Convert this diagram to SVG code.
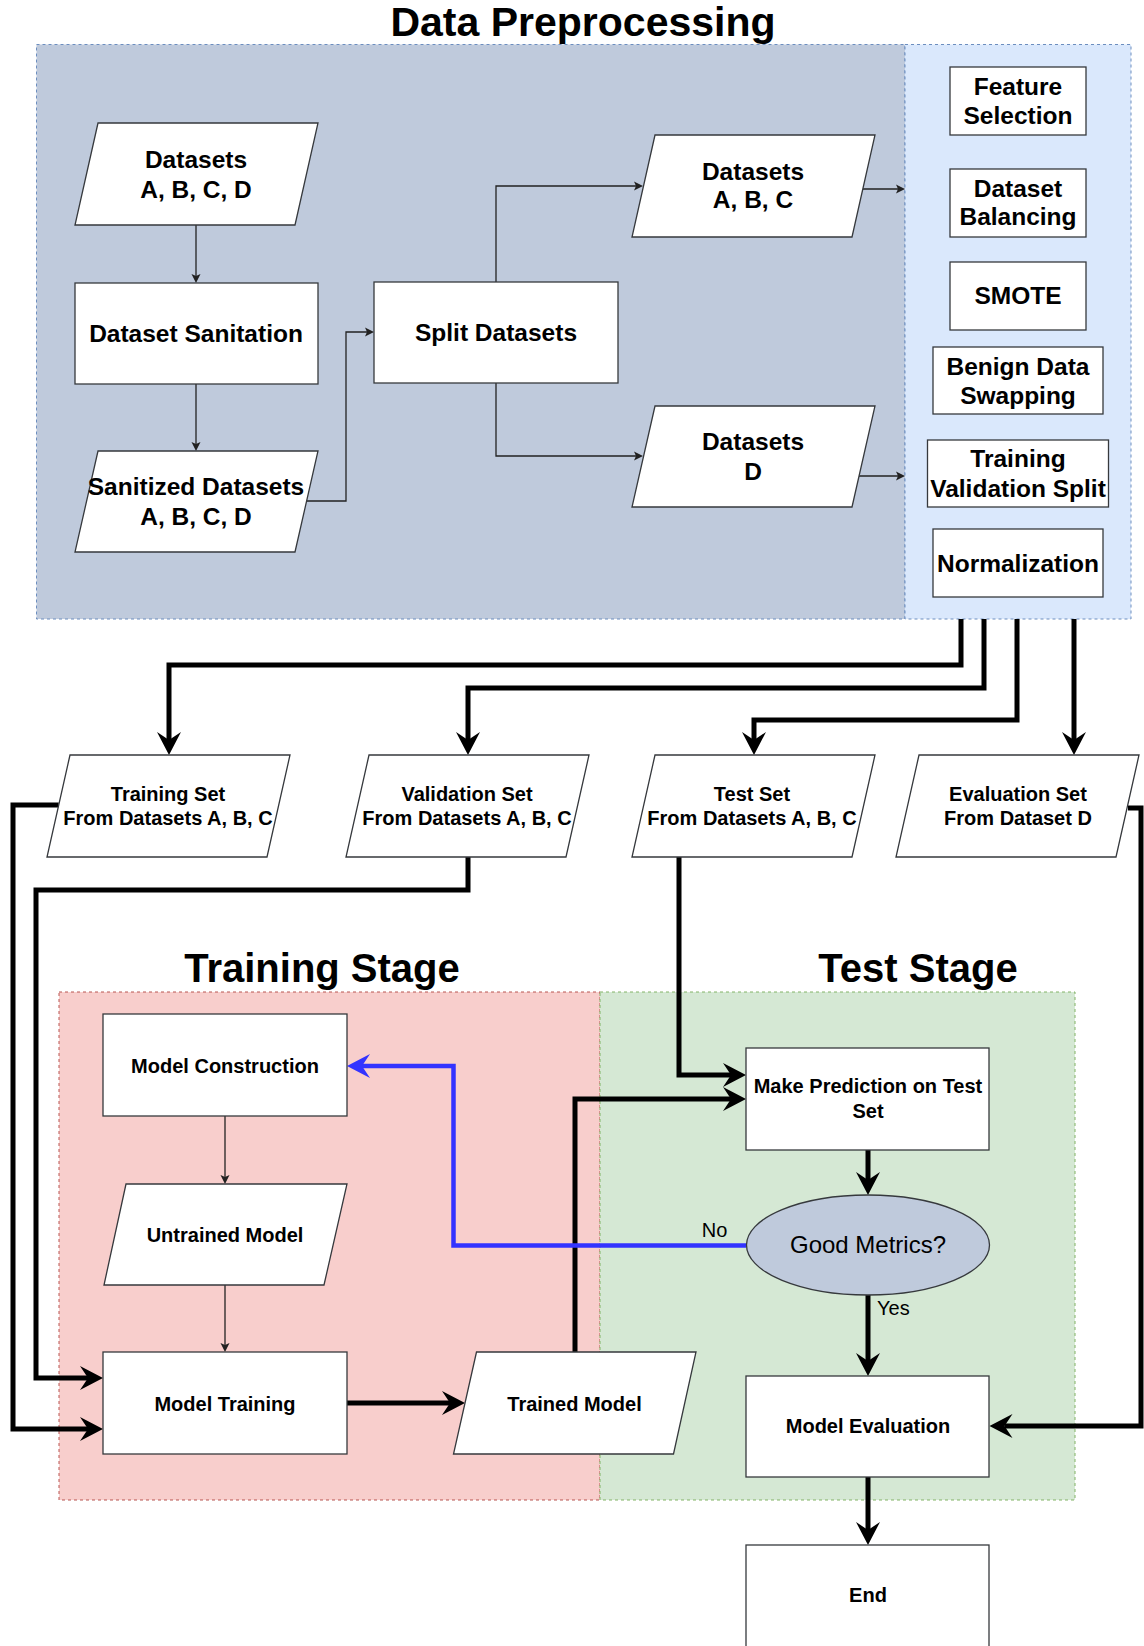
<svg xmlns="http://www.w3.org/2000/svg" width="1144" height="1646" viewBox="0 0 1144 1646">
<style>
.box{fill:#fff;stroke:#36393d;stroke-width:1.3}
.t{font-family:"Liberation Sans",Arial,sans-serif;font-weight:bold;fill:#000;text-anchor:middle}
.t1{font-size:24.5px}
.t2{font-size:20px}
.title{font-size:40px}
.r{font-family:"Liberation Sans",Arial,sans-serif;fill:#000}
.thin{fill:none;stroke:#222;stroke-width:1.3}
.thick{fill:none;stroke:#000;stroke-width:5}
.blue{fill:none;stroke:#3333ff;stroke-width:4.5}
</style>
<defs>
<marker id="ah" viewBox="-9 -13 25 26" refX="0" refY="0" markerWidth="25" markerHeight="26" markerUnits="userSpaceOnUse" orient="auto">
<path d="M15,0 L-8,-12 L0,0 L-8,12 Z" fill="#000"/>
</marker>
<marker id="ahb" viewBox="-9 -13 25 26" refX="0" refY="0" markerWidth="25" markerHeight="26" markerUnits="userSpaceOnUse" orient="auto">
<path d="M15,0 L-8,-12 L0,0 L-8,12 Z" fill="#3333ff"/>
</marker>
<marker id="as" viewBox="-3 -6 11 12" refX="0" refY="0" markerWidth="11" markerHeight="12" markerUnits="userSpaceOnUse" orient="auto">
<path d="M7,0 L-2,-4.5 L0,0 L-2,4.5 Z" fill="#222"/>
</marker>
</defs>

<g id="containers">
<rect x="36.5" y="44.5" width="868.5" height="574.5" fill="#bfcadc" stroke="#6c8ebf" stroke-dasharray="3 3"/>
<rect x="905" y="44.5" width="226" height="574.5" fill="#dae8fc" stroke="#6c8ebf" stroke-dasharray="3 3"/>
<rect x="59" y="992" width="541" height="508" fill="#f8cecc" stroke="#b85450" stroke-dasharray="3 3"/>
<rect x="600" y="992" width="475" height="508" fill="#d5e8d4" stroke="#82b366" stroke-dasharray="3 3"/>
<text class="t title" x="583" y="36" style="font-size:41px">Data Preprocessing</text>
<text class="t title" x="322" y="982">Training Stage</text>
<text class="t title" x="918" y="982">Test Stage</text>
</g>

<g id="connectors">
<path class="thin" d="M196,225 V276" marker-end="url(#as)"/>
<path class="thin" d="M196,384 V444" marker-end="url(#as)"/>
<path class="thin" d="M306,501 H346 V332 H367" marker-end="url(#as)"/>
<path class="thin" d="M496,282 V186 H636" marker-end="url(#as)"/>
<path class="thin" d="M496,383 V456 H636" marker-end="url(#as)"/>
<path class="thin" d="M863,189 H898" marker-end="url(#as)"/>
<path class="thin" d="M859,476 H898" marker-end="url(#as)"/>
<path class="thin" d="M225,1116 V1177" marker-end="url(#as)"/>
<path class="thin" d="M225,1285 V1345" marker-end="url(#as)"/>

<path class="thick" d="M961,619 V665 H169 V740" marker-end="url(#ah)"/>
<path class="thick" d="M984,619 V688 H468 V740" marker-end="url(#ah)"/>
<path class="thick" d="M1017,619 V720 H754 V740" marker-end="url(#ah)"/>
<path class="thick" d="M1074,619 V740" marker-end="url(#ah)"/>
<path class="thick" d="M58.7,805 H13 V1429 H88" marker-end="url(#ah)"/>
<path class="thick" d="M468,857 V890 H36 V1378 H88" marker-end="url(#ah)"/>
<path class="thick" d="M679,857 V1075 H731" marker-end="url(#ah)"/>
<path class="thick" d="M575,1352 V1099 H731" marker-end="url(#ah)"/>
<path class="thick" d="M1128,808 H1141 V1426 H1004.5" marker-end="url(#ah)"/>
<path class="thick" d="M347,1403 H450" marker-end="url(#ah)"/>
<path class="thick" d="M868,1150 V1180" marker-end="url(#ah)"/>
<path class="thick" d="M868,1295 V1361" marker-end="url(#ah)"/>
<path class="thick" d="M868,1477 V1530" marker-end="url(#ah)"/>
<path class="blue" d="M746,1245.5 H453.5 V1066 H362" marker-end="url(#ahb)"/>
<text class="r" x="714.5" y="1237" font-size="20" text-anchor="middle">No</text>
<text class="r" x="877" y="1315" font-size="20">Yes</text>
</g>

<g id="n-datasets-abcd">
<polygon class="box" points="98,123 318,123 295,225 75,225"/>
<text class="t t1" x="196" y="168">Datasets</text>
<text class="t t1" x="196" y="198">A, B, C, D</text>
</g>
<g id="n-sanitation">
<rect class="box" x="75" y="283" width="243" height="101"/>
<text class="t t1" x="196" y="342">Dataset Sanitation</text>
</g>
<g id="n-sanitized">
<polygon class="box" points="98,451 318,451 295,552 75,552"/>
<text class="t t1" x="196" y="495">Sanitized Datasets</text>
<text class="t t1" x="196" y="525">A, B, C, D</text>
</g>
<g id="n-split">
<rect class="box" x="374" y="282" width="244" height="101"/>
<text class="t t1" x="496" y="341">Split Datasets</text>
</g>
<g id="n-datasets-abc">
<polygon class="box" points="655,135 875,135 852,237 632,237"/>
<text class="t t1" x="753" y="180">Datasets</text>
<text class="t t1" x="753" y="208">A, B, C</text>
</g>
<g id="n-datasets-d">
<polygon class="box" points="655,406 875,406 852,507 632,507"/>
<text class="t t1" x="753" y="450">Datasets</text>
<text class="t t1" x="753" y="480">D</text>
</g>

<g id="n-feature">
<rect class="box" x="950" y="67" width="136" height="68"/>
<text class="t t1" x="1018" y="95">Feature</text>
<text class="t t1" x="1018" y="124">Selection</text>
</g>
<g id="n-balancing">
<rect class="box" x="950" y="169" width="136" height="68"/>
<text class="t t1" x="1018" y="197">Dataset</text>
<text class="t t1" x="1018" y="225">Balancing</text>
</g>
<g id="n-smote">
<rect class="box" x="950" y="262" width="136" height="68"/>
<text class="t t1" x="1018" y="304">SMOTE</text>
</g>
<g id="n-benign">
<rect class="box" x="933" y="347" width="170" height="67"/>
<text class="t t1" x="1018" y="375">Benign Data</text>
<text class="t t1" x="1018" y="404">Swapping</text>
</g>
<g id="n-tvsplit">
<rect class="box" x="927.5" y="440" width="181" height="67"/>
<text class="t t1" x="1018" y="467">Training</text>
<text class="t t1" x="1018" y="497">Validation Split</text>
</g>
<g id="n-normalization">
<rect class="box" x="933" y="529" width="170" height="68"/>
<text class="t t1" x="1018" y="572">Normalization</text>
</g>

<g id="n-training-set">
<polygon class="box" points="70,755 290,755 267,857 47,857"/>
<text class="t t2" x="168" y="801">Training Set</text>
<text class="t t2" x="168" y="825">From Datasets A, B, C</text>
</g>
<g id="n-validation-set">
<polygon class="box" points="369,755 589,755 566,857 346,857"/>
<text class="t t2" x="467" y="801">Validation Set</text>
<text class="t t2" x="467" y="825">From Datasets A, B, C</text>
</g>
<g id="n-test-set">
<polygon class="box" points="655,755 875,755 852,857 632,857"/>
<text class="t t2" x="752" y="801">Test Set</text>
<text class="t t2" x="752" y="825">From Datasets A, B, C</text>
</g>
<g id="n-evaluation-set">
<polygon class="box" points="919,755 1139,755 1116,857 896,857"/>
<text class="t t2" x="1018" y="801">Evaluation Set</text>
<text class="t t2" x="1018" y="825">From Dataset D</text>
</g>

<g id="n-model-construction">
<rect class="box" x="103" y="1014" width="244" height="102"/>
<text class="t t2" x="225" y="1073">Model Construction</text>
</g>
<g id="n-untrained">
<polygon class="box" points="126,1184 347,1184 324,1285 104,1285"/>
<text class="t t2" x="225" y="1242">Untrained Model</text>
</g>
<g id="n-model-training">
<rect class="box" x="103" y="1352" width="244" height="102"/>
<text class="t t2" x="225" y="1411">Model Training</text>
</g>
<g id="n-trained">
<polygon class="box" points="476.5,1352 696,1352 673.5,1454 453.5,1454"/>
<text class="t t2" x="574.5" y="1411">Trained Model</text>
</g>
<g id="n-prediction">
<rect class="box" x="746" y="1048" width="243" height="102"/>
<text class="t t2" x="868" y="1093">Make Prediction on Test</text>
<text class="t t2" x="868" y="1118">Set</text>
</g>
<g id="n-good-metrics">
<ellipse cx="868" cy="1245" rx="121.5" ry="50" fill="#bfcadc" stroke="#36393d" stroke-width="1.3"/>
<text class="r" x="868" y="1253" font-size="24" text-anchor="middle">Good Metrics?</text>
</g>
<g id="n-model-evaluation">
<rect class="box" x="746" y="1376" width="243" height="101"/>
<text class="t t2" x="868" y="1433">Model Evaluation</text>
</g>
<g id="n-end">
<rect class="box" x="746" y="1545" width="243" height="120"/>
<text class="t t2" x="868" y="1602">End</text>
</g>
</svg>
